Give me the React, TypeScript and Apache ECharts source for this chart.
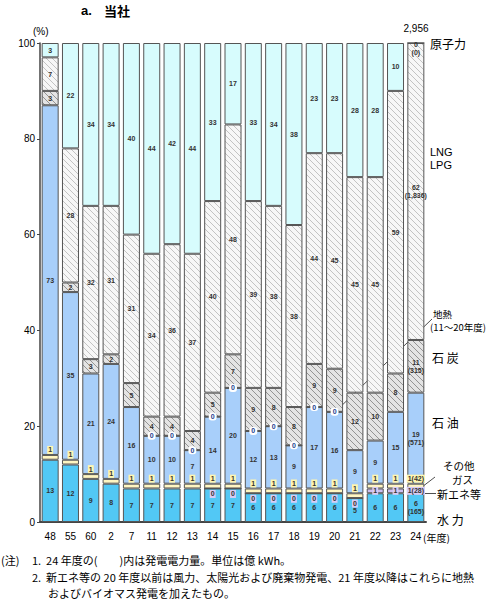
import React, { useEffect, useRef } from "react";
import * as echarts from "echarts";

const categories = ["48", "55", "60", "2", "7", "11", "12", "13", "14", "15", "16", "17", "18", "19", "20", "21", "22", "23", "24"];
const hydro = [13, 12, 9, 8, 7, 7, 7, 7, 7, 7, 6, 6, 6, 6, 6, 5, 6, 6, 6];
const newEnergy = [null, null, null, null, null, null, null, null, 0, 0, 0, 0, 0, 0, 0, 0, 1, 1, 1];
const otherGas = [1, 1, 1, 1, 1, 1, 1, 1, 1, 1, 1, 1, 1, 1, 1, 1, 1, 1, 1];
const oil = [73, 35, 21, 24, 16, 10, 10, 7, 14, 20, 12, 13, 9, 17, 16, 9, 9, 15, 19];
const geothermal = [null, null, null, null, null, 0, 0, 0, 0, 0, 0, 0, 0, 0, 0, null, null, null, null];
const coal = [3, 2, 3, 2, 5, 4, 4, 4, 5, 7, 9, 8, 8, 9, 9, 12, 10, 8, 11];
const lng = [7, 28, 32, 31, 31, 34, 36, 37, 40, 48, 39, 38, 38, 44, 45, 45, 45, 59, 62];
const nuclear = [3, 22, 34, 34, 40, 44, 42, 44, 33, 17, 33, 34, 38, 23, 23, 28, 28, 10, 0];
// 24年度 発電電力量（億kWh）
const kwh24 = { hydro: "165", newEnergy: "28", otherGas: "42", oil: "571", coal: "315", lng: "1,836", nuclear: "0" };
const total24 = "2,956";
const yTicks = [0, 20, 40, 60, 80, 100];

const FONT = "'Liberation Sans', 'Noto Sans CJK JP', sans-serif";
const JFONT = "'Noto Sans CJK JP', 'Liberation Sans', sans-serif";

function hatch(bg: string, line: string, lw: number) {
  const s = 6;
  const c = document.createElement("canvas");
  c.width = s;
  c.height = s;
  const ctx = c.getContext("2d")!;
  ctx.fillStyle = bg;
  ctx.fillRect(0, 0, s, s);
  ctx.strokeStyle = line;
  ctx.lineWidth = lw;
  ctx.beginPath();
  ctx.moveTo(-1, -1);
  ctx.lineTo(s + 1, s + 1);
  ctx.moveTo(-1, s - 1);
  ctx.lineTo(1, s + 1);
  ctx.moveTo(s - 1, -1);
  ctx.lineTo(s + 1, 1);
  ctx.stroke();
  return { image: c, repeat: "repeat", imageWidth: s, imageHeight: s } as any;
}

export default function App() {
  const ref = useRef<HTMLDivElement>(null);
  useEffect(() => {
    if (!ref.current) return;
    const chart = echarts.init(ref.current, null, { renderer: "svg" });
    const last = categories.length - 1;
    const border = { borderColor: "#555", borderWidth: 1 };
    const baseLabel = {
      show: true,
      fontSize: 7,
      fontWeight: "bold" as const,
      color: "#333",
      fontFamily: FONT,
      lineHeight: 8,
    };
    const mk = (name: string, data: any[], color: any, label: any = {}, kwhKey?: string, inline?: boolean) => ({
      name,
      type: "bar",
      stack: "total",
      barWidth: 17,
      data,
      itemStyle: { color, ...border },
      label: {
        ...baseLabel,
        position: "inside",
        formatter: (p: any) => {
          if (p.value == null) return "";
          if (p.dataIndex === last && kwhKey) {
            const k = (kwh24 as any)[kwhKey];
            return inline ? `${p.value}(${k})` : `${p.value}\n(${k})`;
          }
          return String(p.value);
        },
        ...label,
      },
    });

    const nuclearData = nuclear.map((v, i) =>
      i === last ? { value: v, label: { position: "bottom", distance: -3 } } : v
    );
    const newData = newEnergy.map((v) =>
      v === 0 ? { value: v, label: { position: "bottom", distance: 1 } } : v
    );

    const option: any = {
      animation: false,
      grid: { left: 40, right: 74, top: 43, bottom: 83, containLabel: false },
      xAxis: {
        type: "category",
        data: categories,
        axisTick: { show: false },
        axisLine: { lineStyle: { color: "#444", width: 2 } },
        axisLabel: { fontSize: 10, color: "#000", margin: 9, fontFamily: FONT },
      },
      yAxis: {
        type: "value",
        min: 0,
        max: 100,
        interval: 20,
        splitLine: { show: false },
        axisLine: { show: true, lineStyle: { color: "#444", width: 1.5 } },
        axisTick: { show: true, length: 3, lineStyle: { color: "#444" } },
        axisLabel: {
          fontSize: 10,
          color: "#000",
          margin: 5,
          fontFamily: FONT,
          formatter: (v: number) => (yTicks.includes(v) ? String(v) : ""),
        },
      },
      series: [
        mk("水力", hydro, "#52c8f5", {}, "hydro"),
        mk("新エネ等", newData, "#cbbdf0", { backgroundColor: "#d8ccf5", padding: [0, 1] }, "newEnergy", true),
        mk("その他ガス", otherGas, "#fff6c2", { position: "top", distance: 1, backgroundColor: "#fff6b0", padding: [0, 1] }, "otherGas", true),
        mk("石油", oil, "#a8cffa", {}, "oil"),
        mk("地熱", geothermal, "#ffffff", { backgroundColor: "#ffffff", borderRadius: 3, padding: [0, 2], color: "#1d3f8f" }),
        mk("石炭", coal, hatch("#e4e4e4", "#8a8a8a", 0.9), {}, "coal"),
        mk("LNG LPG", lng, hatch("#f7f7f7", "#b5b5b5", 0.8), {}, "lng"),
        mk("原子力", nuclearData, "#d7fcfd", {}, "nuclear"),
      ],
      graphic: [
        { type: "text", x: 81, y: 10, style: { text: "a.", fontSize: 13, fontWeight: "bold", fill: "#000", fontFamily: FONT, verticalAlign: "middle" } },
        { type: "text", x: 104, y: 10, style: { text: "当社", fontSize: 13, fontWeight: "bold", fill: "#000", fontFamily: JFONT, verticalAlign: "middle" } },
        { type: "text", x: 33, y: 31, style: { text: "(%)", fontSize: 10, fill: "#000", fontFamily: FONT, verticalAlign: "middle" } },
        { type: "text", x: 416, y: 28, style: { text: total24, fontSize: 10, fill: "#000", fontFamily: FONT, align: "center", verticalAlign: "middle" } },
        { type: "text", x: 423, y: 537, style: { text: "(年度)", fontSize: 10, fill: "#000", fontFamily: JFONT, verticalAlign: "middle" } },
        { type: "text", x: 430, y: 43, style: { text: "原子力", fontSize: 12, fill: "#000", fontFamily: JFONT, verticalAlign: "middle" } },
        { type: "text", x: 430, y: 152, style: { text: "LNG", fontSize: 11, fill: "#000", fontFamily: FONT, verticalAlign: "middle" } },
        { type: "text", x: 430, y: 165, style: { text: "LPG", fontSize: 11, fill: "#000", fontFamily: FONT, verticalAlign: "middle" } },
        { type: "text", x: 433, y: 314, style: { text: "地熱", fontSize: 9.5, fill: "#000", fontFamily: JFONT, verticalAlign: "middle" } },
        { type: "text", x: 430, y: 327, style: { text: "(11～20年度)", fontSize: 9.5, fill: "#000", fontFamily: JFONT, verticalAlign: "middle" } },
        { type: "line", shape: { x1: 432, y1: 319, x2: 336, y2: 411 }, style: { stroke: "#222", lineWidth: 0.8 } },
        { type: "text", x: 432, y: 357, style: { text: "石 炭", fontSize: 12, fill: "#000", fontFamily: JFONT, verticalAlign: "middle" } },
        { type: "text", x: 432, y: 422, style: { text: "石 油", fontSize: 12, fill: "#000", fontFamily: JFONT, verticalAlign: "middle" } },
        { type: "text", x: 443, y: 465, style: { text: "その他", fontSize: 10.5, fill: "#000", fontFamily: JFONT, verticalAlign: "middle" } },
        { type: "text", x: 452, y: 479, style: { text: "ガス", fontSize: 10.5, fill: "#000", fontFamily: JFONT, verticalAlign: "middle" } },
        { type: "line", shape: { x1: 435, y1: 477, x2: 422, y2: 487 }, style: { stroke: "#222", lineWidth: 0.8 } },
        { type: "text", x: 437, y: 494, style: { text: "新エネ等", fontSize: 11, fill: "#000", fontFamily: JFONT, verticalAlign: "middle" } },
        { type: "line", shape: { x1: 422, y1: 493.5, x2: 436, y2: 493.5 }, style: { stroke: "#222", lineWidth: 0.8 } },
        { type: "text", x: 437, y: 519, style: { text: "水 力", fontSize: 12, fill: "#000", fontFamily: JFONT, verticalAlign: "middle" } },
        { type: "text", x: 1, y: 560, style: { text: "(注)", fontSize: 11, fill: "#000", fontFamily: JFONT, verticalAlign: "middle" } },
        { type: "text", x: 32, y: 560, style: { text: "1.  24 年度の(　　)内は発電電力量。単位は億 kWh。", fontSize: 11, fill: "#000", fontFamily: JFONT, verticalAlign: "middle" } },
        { type: "text", x: 32, y: 577, style: { text: "2.  新エネ等の 20 年度以前は風力、太陽光および廃棄物発電、21 年度以降はこれらに地熱", fontSize: 11, fill: "#000", fontFamily: JFONT, verticalAlign: "middle" } },
        { type: "text", x: 48, y: 593, style: { text: "およびバイオマス発電を加えたもの。", fontSize: 11, fill: "#000", fontFamily: JFONT, verticalAlign: "middle" } },
      ],
    };
    chart.setOption(option);
    return () => chart.dispose();
  }, []);
  return (
    <div
      ref={ref}
      style={{ position: "fixed", left: 0, top: 0, width: 500, height: 605, background: "#fff" }}
    />
  );
}
